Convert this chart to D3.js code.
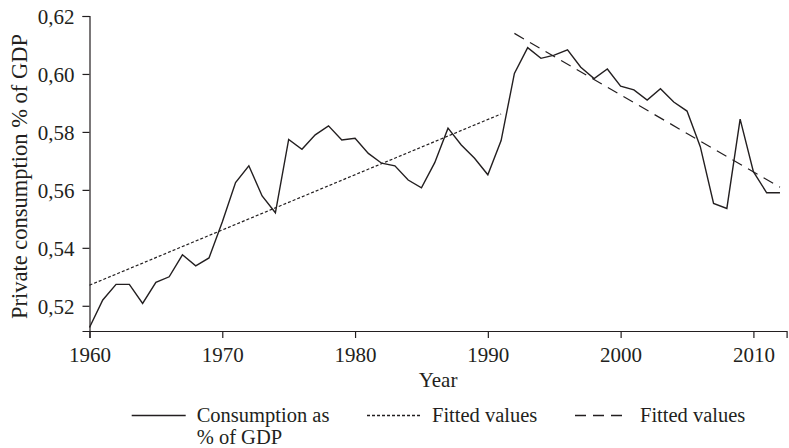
<!DOCTYPE html>
<html>
<head>
<meta charset="utf-8">
<script src="https://cdn.jsdelivr.net/npm/d3@7"></script>
<style>
  body { margin: 0; background: #fff; }
  svg { display: block; }
  text { font-family: "Liberation Serif", "Times New Roman", serif; fill: #231f20; }
</style>
</head>
<body>
<svg id="chart" width="789" height="448"></svg>
<script>
const width = 789;
const height = 448;

// private consumption as share of GDP, 1960-2012
const years = d3.range(1960, 2013);
const consumption = [
  0.5125, 0.5220, 0.5274, 0.5274, 0.5208, 0.5281, 0.5300, 0.5376, 0.5338, 0.5365,
  0.5489, 0.5625, 0.5683, 0.5579, 0.5521, 0.5774, 0.5740, 0.5790, 0.5821, 0.5772,
  0.5778, 0.5726, 0.5692, 0.5683, 0.5634, 0.5607, 0.5694, 0.5813, 0.5755, 0.5709,
  0.5652, 0.5770, 0.6002, 0.6091, 0.6054, 0.6065, 0.6083, 0.6023, 0.5984, 0.6017,
  0.5958, 0.5945, 0.5910, 0.5949, 0.5903, 0.5872, 0.5749, 0.5553, 0.5536, 0.5844,
  0.5663, 0.5590, 0.5590
];

// fitted values, two periods (end points of each linear fit)
const fitYearsA = [1960, 1991];
const fitValuesA = [0.5271, 0.5862];
const fitYearsB = [1992, 2012];
const fitValuesB = [0.6140, 0.5609];

const yTicks = [0.52, 0.54, 0.56, 0.58, 0.60, 0.62];
const xTicks = [1960, 1970, 1980, 1990, 2000, 2010];

const legendItems = [
  { label: ["Consumption as", "% of GDP"], dash: null, x: 131.7 },
  { label: ["Fitted values"], dash: "3,2", x: 367 },
  { label: ["Fitted values"], dash: "11,7", x: 575 }
];

const margin = { top: 16, left: 89.5, right: 2.4, bottom: 117 };

const x = d3.scaleLinear()
  .domain([1960, 2012.5])
  .range([margin.left, width - margin.right]);

const y = d3.scaleLinear()
  .domain([0.5113, 0.62])
  .range([height - margin.bottom, margin.top]);

const svg = d3.select("#chart");
const ink = "#231f20";
const comma = d3.format(".2f");

// y axis
const yAxis = svg.append("g")
  .attr("transform", `translate(${margin.left},0)`)
  .call(d3.axisLeft(y).tickValues(yTicks).tickSize(7).tickPadding(8)
    .tickFormat(d => comma(d).replace(".", ",")));

// x axis
const xAxis = svg.append("g")
  .attr("transform", `translate(0,${height - margin.bottom})`)
  .call(d3.axisBottom(x).tickValues(xTicks).tickSize(7).tickPadding(9)
    .tickFormat(d3.format("d")));

[yAxis, xAxis].forEach(ax => {
  ax.select(".domain").attr("stroke", ink).attr("stroke-width", 1.2);
  ax.selectAll(".tick line").attr("stroke", ink).attr("stroke-width", 1.2);
  ax.selectAll("text").attr("font-size", 21).attr("fill", ink);
});
yAxis.selectAll("text").attr("dy", "0.36em");
xAxis.selectAll("text").attr("dy", "0.72em");

// axis titles
svg.append("text")
  .attr("transform", `translate(27,${(y.range()[0] + y.range()[1]) / 2 + 3}) rotate(-90)`)
  .attr("text-anchor", "middle")
  .attr("font-size", 22.5)
  .text("Private consumption % of GDP");

svg.append("text")
  .attr("x", (x.range()[0] + x.range()[1]) / 2)
  .attr("y", 386.5)
  .attr("text-anchor", "middle")
  .attr("font-size", 21)
  .text("Year");

// lines
const line = d3.line()
  .x(d => x(d[0]))
  .y(d => y(d[1]));

svg.append("path")
  .datum(d3.zip(fitYearsA, fitValuesA))
  .attr("d", line)
  .attr("fill", "none")
  .attr("stroke", ink)
  .attr("stroke-width", 1.2)
  .attr("stroke-dasharray", "3,2");

svg.append("path")
  .datum(d3.zip(fitYearsB, fitValuesB))
  .attr("d", line)
  .attr("fill", "none")
  .attr("stroke", ink)
  .attr("stroke-width", 1.2)
  .attr("stroke-dasharray", "11,7");

svg.append("path")
  .datum(d3.zip(years, consumption))
  .attr("d", line)
  .attr("fill", "none")
  .attr("stroke", ink)
  .attr("stroke-width", 1.4)
  .attr("stroke-linejoin", "miter");

// legend
const legend = svg.append("g");
legendItems.forEach(item => {
  const g = legend.append("g").attr("transform", `translate(${item.x},0)`);
  g.append("line")
    .attr("x1", 0).attr("x2", 54)
    .attr("y1", 415.5).attr("y2", 415.5)
    .attr("stroke", ink)
    .attr("stroke-width", 1.3)
    .attr("stroke-dasharray", item.dash);
  item.label.forEach((t, i) => {
    g.append("text")
      .attr("x", 65)
      .attr("y", 422 + i * 22)
      .attr("font-size", 20.5)
      .text(t);
  });
});
</script>
</body>
</html>
